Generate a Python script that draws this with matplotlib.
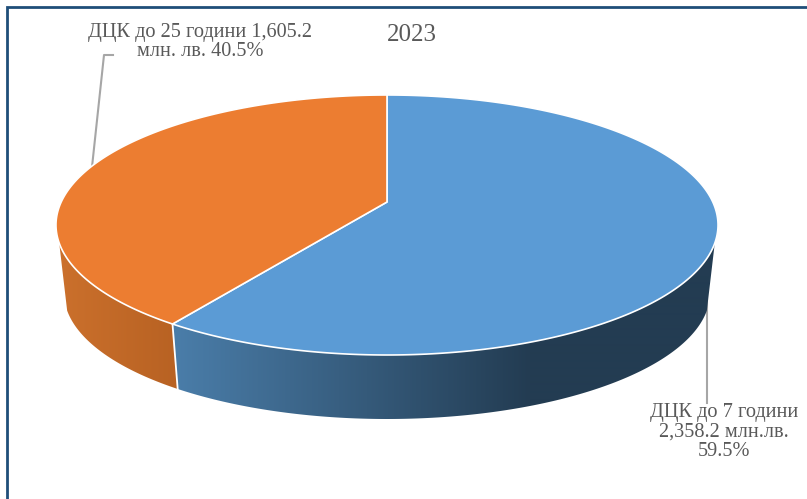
import numpy as np
import matplotlib
matplotlib.use("Agg")
import matplotlib.pyplot as plt
from matplotlib.colors import to_rgb
from matplotlib.patches import Polygon

title = "2023"
categories = ["ДЦК до 7 години", "ДЦК до 25 години"]
values = [2358.2, 1605.2]
shares = [59.5, 40.5]
label_texts = ["ДЦК до 7 години\n2,358.2 млн.лв.\n59.5%",
               "ДЦК до 25 години 1,605.2\nмлн. лв. 40.5%"]

W, H = 807, 499
fig = plt.figure(figsize=(W / 100, H / 100), dpi=100, facecolor="white")
ax = fig.add_axes([0, 0, 1, 1])
ax.set_xlim(0, W)
ax.set_ylim(H, 0)
ax.axis("off")

# Projective view of a flat disc (perspective tilt)
CX, APEX_Y = 387.0, 202.0
C = -0.1769
A = 90.2
K = 325.8
BOT_SCALE_X = 323.0 / 331.0
BOT_SCALE_Y = 126.0 / 130.0
BOT_CY = 293.0
TOP_CY = 225.0


def top_pt(t):
    """t = clockwise angle from 12 o'clock in radians."""
    u, v = np.sin(t), -np.cos(t)
    d = 1 + C * v
    return CX + K * u / d, (A * v + APEX_Y) / d


def bot_pt(t):
    x, y = top_pt(t)
    return CX + (x - CX) * BOT_SCALE_X, BOT_CY + (y - TOP_CY) * BOT_SCALE_Y


total = sum(values)
fracs = [v / total for v in values]
edges = np.concatenate([[0], np.cumsum(fracs)]) * 2 * np.pi

top_cols = ["#5B9BD5", "#EC7D31"]
wall_cols = [(("#4A7DA9", 176), ("#233C52", 530)),
             (("#CB702C", 60), ("#B86223", 176))]

# Visible wall range: from the right tangent round the front to the left tangent
ts = np.linspace(0, 2 * np.pi, 4001)
yy = top_pt(ts)[1]
front = ts[(yy >= 243) & (ts > 0.3) & (ts < 2 * np.pi - 0.3)]
t_start, t_end = front[0], front[-1]

for i in range(len(values)):
    a0, a1 = max(edges[i], t_start), min(edges[i + 1], t_end)
    tt = np.linspace(a0, a1, 400)
    xt, yt = top_pt(tt)
    xb, yb = bot_pt(tt[::-1])
    pts = np.column_stack([np.r_[xt, xb], np.r_[yt, yb]])
    clip = Polygon(pts, closed=True, transform=ax.transData, facecolor="none", edgecolor="none")
    ax.add_patch(clip)
    (c0, x0), (c1, x1) = wall_cols[i]
    c0, c1 = np.array(to_rgb(c0)), np.array(to_rgb(c1))
    xs = np.arange(W) + 0.5
    f = np.clip((xs - x0) / (x1 - x0), 0, 1)[:, None]
    grad = (c0 + (c1 - c0) * f)[None, :, :]
    im = ax.imshow(grad, extent=(0, W, H, 0), aspect="auto", zorder=2, interpolation="bilinear")
    im.set_clip_path(clip)

ax.set_xlim(0, W)
ax.set_ylim(H, 0)

# White seam on the wall between slices
x_a, y_a = top_pt(edges[1])
x_b, y_b = bot_pt(edges[1])
ax.plot([x_a, x_b], [y_a, y_b], color="white", lw=1.3, zorder=3)

# Top face
for i in range(len(values)):
    tt = np.linspace(edges[i], edges[i + 1], 500)
    x, y = top_pt(tt)
    pts = np.column_stack([np.r_[CX, x], np.r_[APEX_Y, y]])
    ax.add_patch(Polygon(pts, closed=True, facecolor=top_cols[i],
                         edgecolor="white", lw=1.2, joinstyle="round", zorder=4))

# Leader lines
ax.plot([707, 707], [300, 403], color="#A6A6A6", lw=1.5, zorder=1)
ax.plot([113, 104, 92], [55, 55, 167], color="#A6A6A6", lw=1.5, zorder=1)

# Frame (top and left only)
ax.plot([6.5, 6.5, W], [H, 6.5, 6.5], color="#1F4E79", lw=2.0, zorder=6,
        solid_joinstyle="miter", clip_on=False)

font = "Liberation Serif"
txt = "#595959"
ax.text(411.5, 35, title, family=font, fontsize=18, color=txt, ha="center", va="center")
ax.text(724, 432, label_texts[0], family=font, fontsize=14.6, color=txt,
        ha="center", va="center", linespacing=1.07, zorder=7)
ax.text(200, 42, label_texts[1], family=font, fontsize=14.6, color=txt,
        ha="center", va="center", linespacing=1.07, zorder=7)

fig.savefig("out.png", dpi=100, facecolor="white")
